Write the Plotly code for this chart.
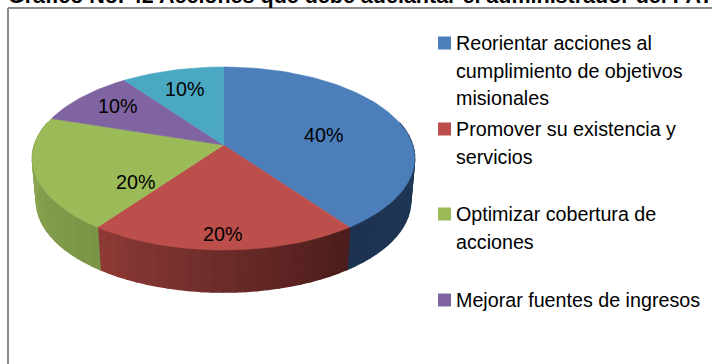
import math
import plotly.graph_objects as go

categories = ["Reorientar acciones al cumplimiento de objetivos misionales",
              "Promover su existencia y servicios",
              "Optimizar cobertura de acciones",
              "Mejorar fuentes de ingresos",
              "Otras acciones"]
values = [40, 20, 20, 10, 10]
value_labels = ["40%", "20%", "20%", "10%", "10%"]
top_colors = ["#4C7EBA", "#BC4F4B", "#9BBB59", "#8064A2", "#4BA8C3"]
# side wall colours at the start and end of each slice (clockwise)
side_colors = [("#20385A", "#1D3350"), ("#4A1C1B", "#8E3B37"),
               ("#7A9446", "#90AB58"), ("#5B4774", "#5B4774"), ("#2F7D92", "#2F7D92")]
legend_lines = [["Reorientar acciones al", "cumplimiento de objetivos", "misionales"],
                ["Promover su existencia y", "servicios"],
                ["Optimizar cobertura de", "acciones"],
                ["Mejorar fuentes de ingresos"]]
title_text = "Gráfico No. 42 Acciones que debe adelantar el administrador del PAT"

W, H = 712, 364
CX, CY, A, B, K = 223.5, 145, 189, 89.5, 0.1475
CY2, A2, B2 = 188, 185, 88.7
LABEL_POS = [(323, 135), (222, 234), (135, 182), (117, 106), (184, 89)]
LEG_SW_Y = [43, 129, 214, 300]
FONT = "Liberation Sans"
FS = 19.7


def proj(deg, cy, a, b):
    t = math.radians(deg)
    u, v = math.sin(t), math.cos(t)
    d = 1 + K * v
    return CX + a * u / d, cy - b * v / d


def lerp_color(c1, c2, f):
    p = [int(c1[i:i + 2], 16) for i in (1, 3, 5)]
    q = [int(c2[i:i + 2], 16) for i in (1, 3, 5)]
    return "rgb(%d,%d,%d)" % tuple(round(a + (b - a) * f) for a, b in zip(p, q))


def poly(xs, ys, color, lw=0.6):
    return go.Scatter(x=xs, y=ys, mode="lines", fill="toself", fillcolor=color,
                      line=dict(color=color, width=lw), hoverinfo="skip", showlegend=False)


fig = go.Figure()
total = sum(values)
bounds = [0]
for v in values:
    bounds.append(bounds[-1] + v / total * 360)

# side wall, in narrow strips so the shading runs along the rim
for i in range(len(values)):
    a0, a1 = bounds[i], bounds[i + 1]
    lo, hi = max(a0, 75), min(a1, 285)
    if hi <= lo:
        continue
    n = max(1, int((hi - lo) / 3))
    for j in range(n):
        s0 = lo + (hi - lo) * j / n
        s1 = lo + (hi - lo) * (j + 1) / n
        c = lerp_color(side_colors[i][0], side_colors[i][1], (j + .5) / n)
        p1 = proj(s0, CY, A, B); p2 = proj(s1, CY, A, B)
        p3 = proj(s1, CY2, A2, B2); p4 = proj(s0, CY2, A2, B2)
        fig.add_trace(poly([p1[0], p2[0], p3[0], p4[0], p1[0]],
                           [p1[1], p2[1], p3[1], p4[1], p1[1]], c, 1.6))

# top face
for i in range(len(values)):
    a0, a1 = bounds[i], bounds[i + 1]
    n = max(2, int((a1 - a0) / 1.5))
    pts = [proj(a0 + (a1 - a0) * j / n, CY, A, B) for j in range(n + 1)]
    xs = [CX] + [p[0] for p in pts] + [CX]
    ys = [CY] + [p[1] for p in pts] + [CY]
    fig.add_trace(poly(xs, ys, top_colors[i]))

# legend swatches
fig.add_trace(go.Scatter(x=[444.5] * len(LEG_SW_Y), y=LEG_SW_Y, mode="markers",
                         marker=dict(symbol="square", size=13, color=top_colors[:4], line=dict(width=0)),
                         hoverinfo="skip", showlegend=False))

ann = []
for (x, y), t in zip(LABEL_POS, value_labels):
    ann.append(dict(x=x, y=y, text=t, showarrow=False, xanchor="center", yanchor="middle",
                    font=dict(family=FONT, size=FS, color="#000000")))
for sy, lines in zip(LEG_SW_Y, legend_lines):
    for k, t in enumerate(lines):
        ann.append(dict(x=453.5, y=sy + k * 27.5, text=t, showarrow=False, xanchor="left", yanchor="middle",
                        font=dict(family=FONT, size=FS, color="#000000")))
ann.append(dict(xref="paper", yref="paper", x=0, y=1, text="<b>" + title_text + "</b>", showarrow=False,
                xanchor="left", yanchor="middle", xshift=6, yshift=4.5,
                font=dict(family=FONT, size=21.5, color="#000000")))

shapes = [
    dict(type="line", x0=8, x1=8, y0=8, y1=H, line=dict(color="#8C8C8C", width=2)),
    dict(type="line", x0=8, x1=W, y0=8, y1=8, line=dict(color="#8C8C8C", width=2)),
]

fig.update_layout(
    width=W, height=H, margin=dict(l=0, r=0, t=0, b=0),
    paper_bgcolor="#FFFFFF", plot_bgcolor="#FFFFFF", showlegend=False,
    xaxis=dict(range=[0, W], visible=False, fixedrange=True),
    yaxis=dict(range=[H, 0], visible=False, fixedrange=True),
    annotations=ann, shapes=shapes,
)
fig.write_html("out.html", config={"displayModeBar": False},
               post_script="document.body.style.margin='0';document.documentElement.style.overflow='hidden';")
